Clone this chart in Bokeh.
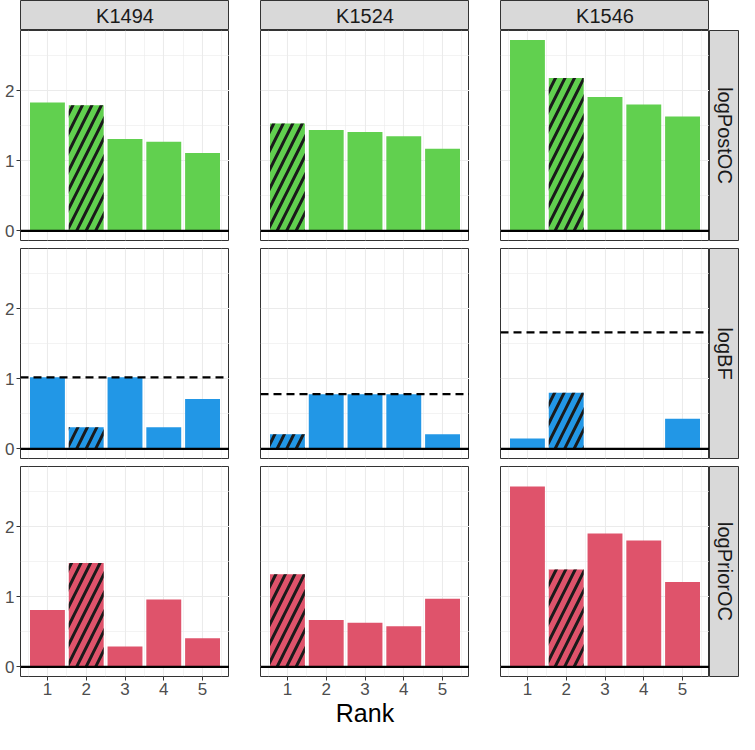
import math
from bokeh.plotting import figure
from bokeh.layouts import gridplot
from bokeh.models import Range1d, FixedTicker, Span
from bokeh.core.properties import value
from bokeh.embed import file_html
from bokeh.resources import INLINE

# ---------------- data ----------------
ranks = [1, 2, 3, 4, 5]
models = ["K1494", "K1524", "K1546"]
metrics = ["logPostOC", "logBF", "logPriorOC"]
metric_colors = ["#61D04F", "#2297E6", "#DF536B"]

post_k1494 = [1.83, 1.79, 1.31, 1.27, 1.11]
post_k1524 = [1.53, 1.44, 1.41, 1.35, 1.17]
post_k1546 = [2.72, 2.18, 1.91, 1.80, 1.63]

bf_k1494 = [1.02, 0.31, 1.02, 0.31, 0.71]
bf_k1524 = [0.21, 0.78, 0.78, 0.78, 0.21]
bf_k1546 = [0.15, 0.80, 0.00, 0.00, 0.43]

prior_k1494 = [0.81, 1.48, 0.29, 0.96, 0.41]
prior_k1524 = [1.32, 0.67, 0.63, 0.58, 0.97]
prior_k1546 = [2.57, 1.39, 1.90, 1.80, 1.21]

chosen_rank = [2, 1, 2]          # hatched bar per model
bf_max = [1.02, 0.78, 1.66]      # dashed line in logBF row

table = [
    [post_k1494, post_k1524, post_k1546],
    [bf_k1494, bf_k1524, bf_k1546],
    [prior_k1494, prior_k1524, prior_k1546],
]

# ---------------- scales ----------------
all_vals = [v for row in table for arr in row for v in arr] + [0.0]
y_min, y_max = min(all_vals), max(all_vals)
ypad = 0.05 * (y_max - y_min)
y_lo, y_hi = y_min - ypad, y_max + ypad

bar_w = 0.9
x_min, x_max = min(ranks) - bar_w / 2, max(ranks) + bar_w / 2
xpad = 0.05 * (x_max - x_min)
x_lo, x_hi = x_min - xpad, x_max + xpad

FONT = "Liberation Sans"
FRAME_W, FRAME_H = 209, 210
GAP_X, LEFT0 = 31, 20
GAP_Y, BOTTOM = 8, 56
STRIP = 30
GRID_C = "#EBEBEB"
BORDER_C = "#333333"


def style_axis(ax):
    ax.axis_line_color = None
    ax.major_tick_line_color = BORDER_C
    ax.major_tick_out = 4
    ax.major_tick_in = 0
    ax.minor_tick_line_color = None
    ax.major_label_text_font = FONT
    ax.major_label_text_font_size = "17px"
    ax.major_label_text_color = "#4D4D4D"
    ax.major_label_standoff = 2


def panel(r, c):
    left = LEFT0 if c == 0 else GAP_X
    bottom = BOTTOM if r == 2 else GAP_Y
    p = figure(width=left + FRAME_W, height=FRAME_H + bottom,
               x_range=Range1d(x_lo, x_hi), y_range=Range1d(y_lo, y_hi),
               output_backend="svg", toolbar_location=None, tools="",
               min_border_left=left, min_border_right=0,
               min_border_top=0, min_border_bottom=bottom)
    p.background_fill_color = "white"
    p.border_fill_color = "white"
    p.outline_line_color = BORDER_C
    p.outline_line_width = 1

    p.xaxis.ticker = FixedTicker(ticks=ranks)
    p.yaxis.ticker = FixedTicker(ticks=[0, 1, 2])
    p.xgrid.ticker = FixedTicker(ticks=ranks, minor_ticks=[k - 0.5 for k in ranks] + [max(ranks) + 0.5])
    p.ygrid.ticker = FixedTicker(ticks=[0, 1, 2], minor_ticks=[0.5, 1.5, 2.5])
    for g in (p.xgrid, p.ygrid):
        g.grid_line_color = GRID_C
        g.grid_line_width = 1.1
        g.minor_grid_line_color = GRID_C
        g.minor_grid_line_width = 0.6

    style_axis(p.xaxis)
    style_axis(p.yaxis)
    if c != 0:
        p.yaxis.visible = False
    if r != 2:
        p.xaxis.visible = False
    if r == 2 and c == 1:
        p.xaxis.axis_label = "Rank"
        p.xaxis.axis_label_text_font = FONT
        p.xaxis.axis_label_text_font_size = "25px"
        p.xaxis.axis_label_text_font_style = "normal"
        p.xaxis.axis_label_text_color = "#000000"
        p.xaxis.axis_label_standoff = 1

    vals = table[r][c]
    sel = chosen_rank[c]
    xs = [k for k in ranks if k != sel]
    ys = [v for k, v in zip(ranks, vals) if k != sel]
    p.vbar(x=xs, top=ys, bottom=0, width=bar_w,
           fill_color=metric_colors[r], line_color=None)
    p.vbar(x=[sel], top=[vals[ranks.index(sel)]], bottom=0, width=bar_w,
           fill_color=metric_colors[r], line_color=None,
           hatch_pattern="/", hatch_color="#1A1A1A",
           hatch_weight=3, hatch_scale=19)

    p.add_layout(Span(location=0, dimension="width",
                      line_color="black", line_width=2.2))
    if metrics[r] == "logBF":
        p.add_layout(Span(location=bf_max[c], dimension="width",
                          line_color="black", line_width=2.2, line_dash="8 5"))
    return p


def blank_strip(width, height, left, bottom):
    s = figure(width=width, height=height,
               x_range=Range1d(0, 1), y_range=Range1d(0, 1),
               output_backend="svg", toolbar_location=None, tools="",
               min_border_left=left, min_border_right=0,
               min_border_top=0, min_border_bottom=bottom)
    s.axis.visible = False
    s.grid.visible = False
    s.background_fill_color = "#D9D9D9"
    s.border_fill_color = "white"
    s.outline_line_color = BORDER_C
    s.outline_line_width = 1
    return s


rows = []
top = []
for c, m in enumerate(models):
    left = LEFT0 if c == 0 else GAP_X
    s = blank_strip(left + FRAME_W, STRIP, left, 0)
    s.text(x=[0.5], y=[0.5], text=[m], text_align="center",
           text_baseline="middle", text_font=value(FONT),
           text_font_size=value("20px"), text_color="#1A1A1A")
    top.append(s)
top.append(None)
rows.append(top)

for r, metric in enumerate(metrics):
    row = [panel(r, c) for c in range(len(models))]
    bottom = BOTTOM if r == 2 else GAP_Y
    rs = blank_strip(STRIP, FRAME_H + bottom, 0, bottom)
    rs.text(x=[0.5], y=[0.5], text=[metric], text_align="center",
            text_baseline="middle", angle=-math.pi / 2,
            text_font=value(FONT), text_font_size=value("20px"),
            text_color="#1A1A1A")
    row.append(rs)
    rows.append(row)

grid = gridplot(rows, toolbar_location=None)

open("out.html", "w").write(file_html(grid, INLINE))
